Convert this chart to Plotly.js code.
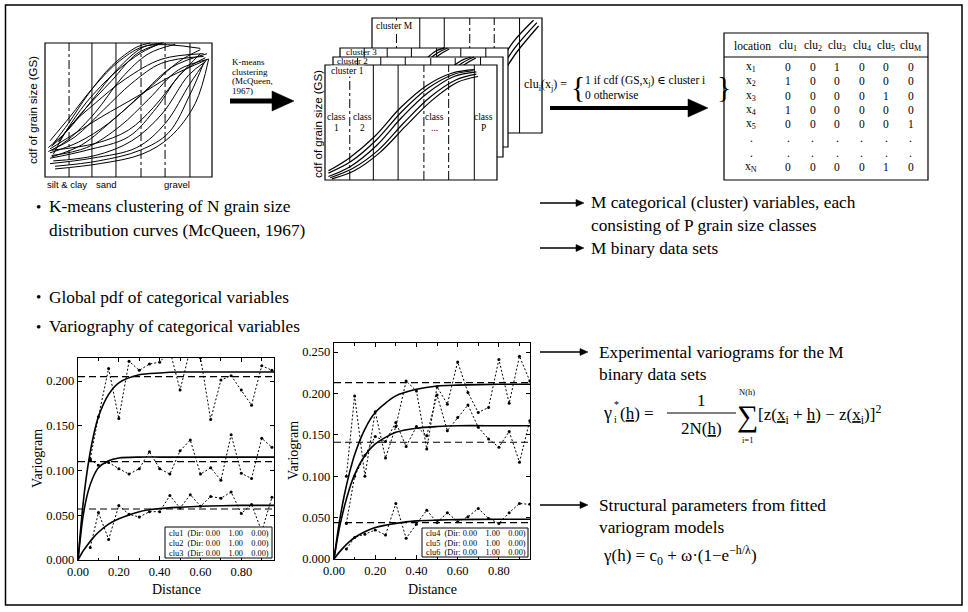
<!DOCTYPE html>
<html>
<head>
<meta charset="utf-8">
<script src="https://cdn.plot.ly/plotly-3.0.1.min.js"></script>
<style>
html,body{margin:0;padding:0;background:#fff;}
#chart{width:968px;height:612px;}
</style>
</head>
<body>
<div id="chart"></div>
<script>
// ---------------- experimental variograms (lag distance vs. gamma) ----------------
const lagDistance = [0.06,0.10,0.15,0.20,0.25,0.30,0.35,0.40,0.45,0.50,0.55,0.60,0.65,0.70,0.75,0.80,0.85,0.90,0.95];
const gammaClu1 = [0.113,0.160,0.214,0.158,0.222,0.212,0.219,0.221,0.234,0.190,0.236,0.226,0.157,0.201,0.206,0.190,0.173,0.217,0.212];
const gammaClu2 = [0.112,0.106,0.109,0.102,0.096,0.102,0.121,0.102,0.096,0.122,0.134,0.096,0.103,0.089,0.140,0.097,0.091,0.136,0.126];
const gammaClu3 = [0.014,0.053,0.023,0.061,0.051,0.048,0.054,0.054,0.072,0.058,0.073,0.060,0.071,0.069,0.076,0.052,0.062,0.032,0.070];
const gammaClu4 = [0.100,0.197,0.100,0.178,0.122,0.160,0.215,0.203,0.133,0.208,0.187,0.238,0.201,0.177,0.183,0.241,0.188,0.245,0.215];
const gammaClu5 = [0.043,0.100,0.125,0.148,0.142,0.165,0.136,0.160,0.149,0.198,0.155,0.171,0.186,0.159,0.145,0.135,0.154,0.117,0.167];
const gammaClu6 = [0.012,0.026,0.030,0.035,0.029,0.067,0.025,0.042,0.059,0.044,0.056,0.045,0.051,0.061,0.049,0.043,0.056,0.067,0.066];

// fitted exponential models, sampled along the distance axis
const modelDistance = [0,0.025,0.05,0.075,0.10,0.15,0.20,0.30,0.40,0.50,0.60,0.80,0.96];
const modelClu1 = [0,0.063,0.107,0.138,0.160,0.185,0.198,0.207,0.209,0.210,0.210,0.210,0.210];
const modelClu2 = [0,0.049,0.077,0.093,0.103,0.111,0.114,0.115,0.115,0.115,0.115,0.115,0.115];
const modelClu3 = [0,0.010,0.018,0.025,0.031,0.040,0.046,0.054,0.0575,0.059,0.060,0.061,0.061];
const modelClu4 = [0,0.043,0.077,0.104,0.126,0.157,0.177,0.197,0.205,0.209,0.210,0.211,0.211];
const modelClu5 = [0,0.036,0.063,0.085,0.102,0.125,0.139,0.153,0.158,0.160,0.161,0.161,0.161];
const modelClu6 = [0,0.008,0.015,0.021,0.026,0.033,0.038,0.043,0.046,0.047,0.0475,0.048,0.048];

// global variances (dashed reference levels)
const sillLeft = [0.205, 0.110, 0.057];
const sillRight = [0.213, 0.141, 0.044];

// legend entries of the variogram panels
const legendLeft = ['clu1  (Dir: 0.00    1.00    0.00)', 'clu2  (Dir: 0.00    1.00    0.00)', 'clu3  (Dir: 0.00    1.00    0.00)'];
const legendRight = ['clu4  (Dir: 0.00    1.00    0.00)', 'clu5  (Dir: 0.00    1.00    0.00)', 'clu6  (Dir: 0.00    1.00    0.00)'];

// ---------------- grain size cdf curves (normalised size class axis, cdf) ----------------
const classBounds = [0.144, 0.281, 0.425, 0.575, 0.719, 0.868];
const cdfAllSamples = [
  [[0.02,0.13,0.28,0.43,0.59,0.71],[0.22,0.34,0.57,0.80,0.97,1.00]],
  [[0.03,0.15,0.29,0.45,0.61,0.93],[0.27,0.45,0.67,0.87,0.98,0.96]],
  [[0.04,0.14,0.30,0.46,0.62,0.78],[0.20,0.28,0.48,0.74,0.92,0.99]],
  [[0.02,0.18,0.35,0.52,0.70,0.95],[0.19,0.30,0.50,0.70,0.85,0.90]],
  [[0.03,0.20,0.38,0.58,0.76,0.97],[0.18,0.26,0.40,0.62,0.82,0.92]],
  [[0.04,0.25,0.45,0.62,0.80,0.98],[0.16,0.22,0.38,0.58,0.80,0.88]],
  [[0.03,0.25,0.50,0.67,0.82,0.96],[0.14,0.20,0.30,0.52,0.78,0.89]],
  [[0.05,0.30,0.52,0.70,0.86,0.96],[0.12,0.16,0.27,0.47,0.76,0.86]],
  [[0.03,0.28,0.55,0.72,0.87,0.97],[0.10,0.14,0.22,0.40,0.70,0.88]],
  [[0.06,0.32,0.57,0.74,0.87,0.95],[0.08,0.12,0.20,0.33,0.62,0.85]],
  [[0.04,0.10,0.22,0.40,0.55,0.68],[0.23,0.30,0.48,0.72,0.92,0.99]],
  [[0.08,0.15,0.30,0.48,0.70,0.95],[0.26,0.38,0.55,0.73,0.88,0.92]],
  [[0.05,0.14,0.26,0.40,0.55,0.63],[0.25,0.40,0.62,0.83,0.97,1.00]],
  [[0.04,0.30,0.50,0.65,0.80,0.93],[0.20,0.25,0.35,0.52,0.75,0.92]],
  [[0.06,0.33,0.58,0.75,0.90,0.98],[0.06,0.10,0.17,0.30,0.55,0.88]],
  [[0.03,0.16,0.34,0.55,0.75,0.96],[0.21,0.31,0.45,0.60,0.75,0.87]],
  [[0.05,0.12,0.25,0.42,0.58,0.70],[0.17,0.33,0.56,0.78,0.93,1.00]],
  [[0.04,0.22,0.42,0.62,0.80,0.93],[0.15,0.24,0.44,0.66,0.86,0.95]]
];
const cdfCluster1 = [
  [[0.02,0.15,0.30,0.45,0.60,0.75,0.88],[0.03,0.12,0.30,0.55,0.76,0.90,0.94]],
  [[0.02,0.15,0.30,0.45,0.60,0.75,0.86],[0.06,0.16,0.35,0.60,0.80,0.92,0.95]],
  [[0.03,0.16,0.31,0.46,0.61,0.76,0.88],[0.02,0.10,0.26,0.50,0.72,0.87,0.92]],
  [[0.02,0.14,0.29,0.44,0.59,0.74,0.87],[0.08,0.19,0.38,0.63,0.82,0.93,0.96]],
  [[0.04,0.17,0.32,0.47,0.62,0.77,0.89],[0.01,0.08,0.24,0.47,0.69,0.85,0.90]]
];
const cdfCluster2 = [
  [[0.03,0.18,0.35,0.52,0.66,0.76,0.83],[0.03,0.13,0.33,0.60,0.80,0.94,1.00]],
  [[0.03,0.18,0.35,0.52,0.66,0.75,0.81],[0.06,0.17,0.38,0.65,0.84,0.96,1.00]],
  [[0.04,0.19,0.36,0.53,0.67,0.77,0.84],[0.02,0.10,0.30,0.57,0.77,0.92,0.99]]
];
const cdfCluster3 = [
  [[0.03,0.13,0.26,0.39,0.50,0.58,0.64],[0.04,0.16,0.38,0.64,0.84,0.95,1.00]],
  [[0.03,0.13,0.26,0.39,0.50,0.57,0.62],[0.07,0.20,0.43,0.68,0.87,0.97,1.00]],
  [[0.04,0.14,0.27,0.40,0.51,0.59,0.65],[0.02,0.13,0.34,0.60,0.81,0.93,0.99]]
];
const cdfClusterM = [
  [[0.05,0.25,0.45,0.60,0.72,0.84,0.97],[0.02,0.06,0.15,0.30,0.48,0.74,0.96]],
  [[0.05,0.25,0.45,0.60,0.72,0.83,0.95],[0.04,0.09,0.19,0.35,0.54,0.79,0.98]],
  [[0.06,0.26,0.46,0.61,0.73,0.85,0.98],[0.01,0.04,0.12,0.26,0.44,0.70,0.93]]
];

// ---------------- binary cluster membership table ----------------
const tableHeader = ['location','clu<sub>1</sub>','clu<sub>2</sub>','clu<sub>3</sub>','clu<sub>4</sub>','clu<sub>5</sub>','clu<sub>M</sub>'];
const tableLocations = ['x<sub>1</sub>','x<sub>2</sub>','x<sub>3</sub>','x<sub>4</sub>','x<sub>5</sub>','.','.','x<sub>N</sub>'];
const tableMembership = [
  ['0','0','1','0','0','0'],
  ['1','0','0','0','0','0'],
  ['0','0','0','0','1','0'],
  ['1','0','0','0','0','0'],
  ['0','0','0','0','0','1'],
  ['.','.','.','.','.','.'],
  ['.','.','.','.','.','.'],
  ['0','0','0','0','1','0']
];

// ---------------- page geometry helpers ----------------
const W = 968, H = 612;
const PX = x => x / W;
const PY = y => 1 - y / H;
const SERIF = '"Liberation Serif", "DejaVu Serif", serif';
const SANS = '"Liberation Sans", "DejaVu Sans", sans-serif';
const boundaryDash = ['dashdot','solid','solid','dashdot','dashdot','solid'];

// panel boxes in pixels: [left, right, top, bottom]
const boxCdfAll   = [45, 212, 43, 177];
const boxClusterM = [372, 542, 18, 133];
const boxCluster3 = [340, 508, 48, 147];
const boxCluster2 = [333, 503, 57, 157];
const boxCluster1 = [325, 497, 65, 180];

function unitAxes(box, pad) {
  const [l, r, t, b] = box;
  const w = r - l, h = b - t;
  const hidden = {visible: false, showgrid: false, zeroline: false, fixedrange: true};
  return {
    x: Object.assign({domain: [(l - pad) / W, (r + pad) / W], range: [-pad / w, 1 + pad / w]}, hidden),
    y: Object.assign({domain: [1 - (b + pad) / H, 1 - (t - pad) / H], range: [-pad / h, 1 + pad / h]}, hidden)
  };
}

const traces = [];
const shapes = [];
const annotations = [];

function txt(x, y, text, size, extra, family) {
  annotations.push(Object.assign({
    xref: 'paper', yref: 'paper', x: PX(x), y: PY(y), text: text,
    showarrow: false, xanchor: 'left', yanchor: 'middle',
    font: {family: family || SERIF, size: size, color: 'black'}, borderpad: 0
  }, extra || {}));
}

function arrow(x0, x1, y, lw, headLen, headHalf) {
  shapes.push({type: 'line', xref: 'paper', yref: 'paper', x0: PX(x0), x1: PX(x1 - headLen + 1), y0: PY(y), y1: PY(y),
    line: {color: 'black', width: lw}, layer: 'above'});
  shapes.push({type: 'path', xref: 'paper', yref: 'paper', layer: 'above',
    path: 'M ' + PX(x1 - headLen) + ',' + PY(y - headHalf) + ' L ' + PX(x1) + ',' + PY(y) + ' L ' + PX(x1 - headLen) + ',' + PY(y + headHalf) + ' Z',
    fillcolor: 'black', line: {color: 'black', width: 0.5}});
}

function panel(n, curves, lineWidth) {
  const xr = 'x' + n, yr = 'y' + n;
  shapes.push({type: 'rect', xref: xr, yref: yr, x0: 0, x1: 1, y0: 0, y1: 1, layer: 'below',
    fillcolor: 'white', line: {color: 'black', width: 1.2}});
  classBounds.forEach((b, i) => shapes.push({type: 'line', xref: xr, yref: yr, x0: b, x1: b, y0: 0, y1: 1, layer: 'below',
    line: {color: 'black', width: 1, dash: boundaryDash[i]}}));
  curves.forEach(c => traces.push({type: 'scatter', mode: 'lines', x: c[0], y: c[1], xaxis: xr, yaxis: yr,
    line: {color: 'black', width: lineWidth, shape: 'spline', smoothing: 1}, hoverinfo: 'skip', showlegend: false}));
}

// ---------------- variogram traces ----------------
function variogram(ax, ay, gamma, model, sill) {
  traces.push({type: 'scatter', mode: 'lines', x: [0, modelDistance[modelDistance.length - 1]], y: [sill, sill],
    xaxis: ax, yaxis: ay, line: {color: 'black', width: 1.2, dash: '7px,4px'}, hoverinfo: 'skip', showlegend: false});
  traces.push({type: 'scatter', mode: 'lines', x: modelDistance, y: model, xaxis: ax, yaxis: ay,
    line: {color: 'black', width: 1.6, shape: 'spline', smoothing: 0.8}, hoverinfo: 'skip', showlegend: false});
  traces.push({type: 'scatter', mode: 'lines+markers', x: lagDistance, y: gamma, xaxis: ax, yaxis: ay,
    line: {color: 'black', width: 1, dash: '2px,2px'}, marker: {color: 'black', size: 3},
    hoverinfo: 'skip', showlegend: false});
}
variogram('x', 'y', gammaClu1, modelClu1, sillLeft[0]);
variogram('x', 'y', gammaClu2, modelClu2, sillLeft[1]);
variogram('x', 'y', gammaClu3, modelClu3, sillLeft[2]);
variogram('x2', 'y2', gammaClu4, modelClu4, sillRight[0]);
variogram('x2', 'y2', gammaClu5, modelClu5, sillRight[1]);
variogram('x2', 'y2', gammaClu6, modelClu6, sillRight[2]);

// ---------------- cdf panels (drawn back to front) ----------------
panel(3, cdfAllSamples, 1);
panel(4, cdfClusterM, 1.3);
panel(5, cdfCluster3, 1.3);
panel(6, cdfCluster2, 1.3);
panel(7, cdfCluster1, 1.2);

const axCdf = unitAxes(boxCdfAll, 2);
const axM = unitAxes(boxClusterM, 2);
const ax3 = unitAxes(boxCluster3, 2);
const ax2 = unitAxes(boxCluster2, 2);
const ax1 = unitAxes(boxCluster1, 2);

// ---------------- frame, arrows, boxes ----------------
shapes.push({type: 'rect', xref: 'paper', yref: 'paper', x0: PX(5.5), x1: PX(962), y0: PY(605), y1: PY(5), layer: 'above',
  line: {color: 'black', width: 1.5}});
arrow(230, 294, 101, 5, 22, 10);
arrow(550, 708, 108, 4, 20, 9);
arrow(540, 584, 203, 1.3, 8, 3.5);
arrow(540, 584, 248, 1.3, 8, 3.5);
arrow(540, 588, 352, 1.3, 8, 3.5);
arrow(540, 588, 505, 1.3, 8, 3.5);

// table frame
shapes.push({type: 'rect', xref: 'paper', yref: 'paper', x0: PX(724), x1: PX(928), y0: PY(180), y1: PY(33), layer: 'above',
  line: {color: 'black', width: 1.2}});
shapes.push({type: 'line', xref: 'paper', yref: 'paper', x0: PX(724), x1: PX(928), y0: PY(57), y1: PY(57), layer: 'above',
  line: {color: 'black', width: 1}});

// variogram legend boxes
[[165, 272, 527, 558], [422, 528, 528, 557]].forEach(b => shapes.push({type: 'rect', xref: 'paper', yref: 'paper',
  x0: PX(b[0]), x1: PX(b[1]), y0: PY(b[3]), y1: PY(b[2]), layer: 'above', fillcolor: 'white', line: {color: 'black', width: 1}}));
legendLeft.forEach((t, i) => txt(168, 533 + 10 * i, t, 8.3));
legendRight.forEach((t, i) => txt(425, 533.5 + 9.7 * i, t, 8.3));

// fraction bar of the variogram estimator
shapes.push({type: 'line', xref: 'paper', yref: 'paper', x0: PX(667), x1: PX(736), y0: PY(413), y1: PY(413), layer: 'above',
  line: {color: 'black', width: 1.2}});

// ---------------- texts ----------------
// overview cdf chart
txt(33, 110, 'cdf of grain size (GS)', 11.5, {textangle: -90, xanchor: 'center'}, SANS);
txt(67, 184, 'silt &amp; clay', 9.5, {xanchor: 'center'}, SANS);
txt(106, 184, 'sand', 9.5, {xanchor: 'center'}, SANS);
txt(177, 184, 'gravel', 9.5, {xanchor: 'center'}, SANS);
['K-means', 'clustering', '(McQueen,', '1967)'].forEach((t, i) => txt(231, 62 + 9.5 * i, t, 9));

// clustered cdf stack
txt(318, 124, 'cdf of grain size (GS)', 11.5, {textangle: -90, xanchor: 'center'}, SANS);
txt(330, 71, 'cluster 1', 9.5, {bgcolor: 'white'});
txt(336, 61, 'cluster 2', 9);
txt(345, 52, 'cluster 3', 9);
txt(375, 26, 'cluster M', 9.5, {bgcolor: 'white'});
[['class', '1', 336.5], ['class', '2', 362], ['class', '...', 434.5], ['class', 'P', 483]].forEach(c => {
  txt(c[2], 117, c[0], 9.5, {xanchor: 'center'});
  txt(c[2], 128, c[1], 9.5, {xanchor: 'center'});
});

// indicator coding
txt(568, 85, 'clu<sub>i</sub>(x<sub>j</sub>) =', 12, {xanchor: 'right'});
txt(570, 87, '{', 30);
txt(584, 81, '1 if cdf (GS,x<sub>j</sub>) \u2208 cluster i', 11.5);
txt(584, 95, '0 otherwise', 11.5);
txt(716, 87, '}', 30);

// membership table
tableHeader.forEach((t, j) => txt(j === 0 ? 752 : 788 + 24.5 * (j - 1), 46, t, 11.5, {xanchor: 'center'}));
tableLocations.forEach((t, i) => txt(751, 67 + 14.3 * i, t, 11.5, {xanchor: 'center'}));
tableMembership.forEach((row, i) => row.forEach((v, j) => txt(788 + 24.5 * j, 67 + 14.3 * i, v, 11.5, {xanchor: 'center'})));

// bullets
txt(35, 207, '\u2022', 15);
txt(48, 206, 'K-means clustering of N grain size', 17.3);
txt(48, 230, 'distribution curves (McQueen, 1967)', 17.3);
txt(35, 297, '\u2022', 15);
txt(48, 297, 'Global pdf of categorical variables', 17.3);
txt(35, 327, '\u2022', 15);
txt(48, 326, 'Variography of categorical variables', 17.3);

txt(590, 203, 'M categorical (cluster) variables, each', 17.3);
txt(590, 225, 'consisting of P grain size classes', 17.3);
txt(590, 248, 'M binary data sets', 17.3);

txt(598, 352, 'Experimental variograms for the M', 17.3);
txt(598, 374, 'binary data sets', 17.3);
txt(602, 413, '\u03b3', 18);
txt(613, 404, '*', 10);
txt(613, 419, 'i', 10);
txt(619, 413, '(<u>h</u>) =', 17);
txt(701, 400, '1', 17, {xanchor: 'center'});
txt(701, 428, '2N(<u>h</u>)', 17, {xanchor: 'center'});
txt(747, 416, '\u2211', 30, {xanchor: 'center'});
txt(747, 392, 'N(h)', 8.5, {xanchor: 'center'});
txt(747, 440, 'i=1', 8.5, {xanchor: 'center'});
txt(757, 414, '[z(<u>x</u><sub>i</sub> + <u>h</u>) \u2212 z(<u>x</u><sub>i</sub>)]<sup>2</sup>', 17);

txt(598, 506, 'Structural parameters from fitted', 17.3);
txt(598, 527, 'variogram models', 17.3);
txt(602, 555, '\u03b3(h) = c<sub>0</sub> + \u03c9\u00b7(1\u2212e<sup>\u2212h/\u03bb</sup>)', 17);

// variogram axis titles
txt(37, 459, 'Variogram', 14, {textangle: -90, xanchor: 'center'});
txt(293, 451, 'Variogram', 14, {textangle: -90, xanchor: 'center'});
txt(176, 589, 'Distance', 14, {xanchor: 'center'});
txt(432, 589, 'Distance', 14, {xanchor: 'center'});

// ---------------- axes ----------------
function vAxisX(domain, range, anchor) {
  return {domain: domain, range: range, anchor: anchor, showline: true, linecolor: 'black', linewidth: 1.2,
    mirror: 'allticks', ticks: 'inside', ticklen: 4, tickcolor: 'black', tickmode: 'linear', tick0: 0, dtick: 0.2,
    tickformat: '.2f', tickfont: {family: SERIF, size: 12.5, color: 'black'}, showgrid: false, zeroline: false,
    minor: {ticks: 'inside', dtick: 0.1, ticklen: 2.5, tickcolor: 'black'}, fixedrange: true};
}
function vAxisY(domain, range, anchor) {
  return {domain: domain, range: range, anchor: anchor, showline: true, linecolor: 'black', linewidth: 1.2,
    mirror: 'allticks', ticks: 'inside', ticklen: 4, tickcolor: 'black', tickmode: 'linear', tick0: 0, dtick: 0.05,
    tickformat: '.3f', tickfont: {family: SERIF, size: 12.5, color: 'black'}, showgrid: false, zeroline: false,
    fixedrange: true};
}

const layout = {
  width: W, height: H,
  margin: {l: 0, r: 0, t: 0, b: 0, pad: 0},
  paper_bgcolor: 'white', plot_bgcolor: 'rgba(0,0,0,0)',
  showlegend: false,
  font: {family: SERIF, color: 'black'},
  xaxis: vAxisX([PX(78), PX(274)], [0, 0.96], 'y'),
  yaxis: vAxisY([PY(560), PY(358)], [0, 0.2257], 'x'),
  xaxis2: vAxisX([PX(334), PX(530)], [0, 0.951], 'y2'),
  yaxis2: vAxisY([PY(559), PY(343)], [0, 0.2609], 'x2'),
  xaxis3: Object.assign({anchor: 'y3'}, axCdf.x), yaxis3: Object.assign({anchor: 'x3'}, axCdf.y),
  xaxis4: Object.assign({anchor: 'y4'}, axM.x), yaxis4: Object.assign({anchor: 'x4'}, axM.y),
  xaxis5: Object.assign({anchor: 'y5'}, ax3.x), yaxis5: Object.assign({anchor: 'x5'}, ax3.y),
  xaxis6: Object.assign({anchor: 'y6'}, ax2.x), yaxis6: Object.assign({anchor: 'x6'}, ax2.y),
  xaxis7: Object.assign({anchor: 'y7'}, ax1.x), yaxis7: Object.assign({anchor: 'x7'}, ax1.y),
  shapes: shapes,
  annotations: annotations
};

Plotly.newPlot('chart', traces, layout, {displayModeBar: false, staticPlot: true});
</script>
</body>
</html>
